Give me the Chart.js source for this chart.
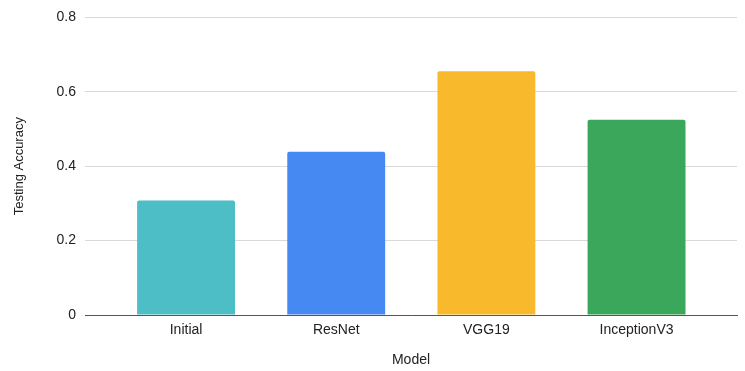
<!DOCTYPE html>
<html>
<head>
<meta charset="utf-8">
<script src="https://cdn.jsdelivr.net/npm/chart.js@4"></script>
<style>
html,body{margin:0;padding:0;background:#fff;}
#wrap{width:745px;height:371px;}
</style>
</head>
<body>
<div id="wrap"><canvas id="c" width="745" height="371"></canvas></div>
<script>
const categories = ["Initial", "ResNet", "VGG19", "InceptionV3"];
const accuracy = [0.308, 0.439, 0.655, 0.525];
const barColors = ["#4DBDC6", "#4689F2", "#F9B92D", "#3BA75A"];
const yTicks = [0, 0.2, 0.4, 0.6, 0.8];

const font = "'Liberation Sans', Arial, Helvetica, sans-serif";

new Chart(document.getElementById('c'), {
  type: 'bar',
  data: {
    datasets: [{
      data: categories.map((c, i) => ({x: i, y: accuracy[i]})),
      backgroundColor: barColors,
      borderWidth: 0,
      borderRadius: {topLeft: 2, topRight: 2},
      borderSkipped: 'bottom',
      categoryPercentage: 1,
      barPercentage: 0.652
    }]
  },
  options: {
    responsive: false,
    animation: false,
    devicePixelRatio: 1,
    layout: {padding: {left: 0, right: 8, top: 15, bottom: 0}},
    plugins: {legend: {display: false}, tooltip: {enabled: false}},
    scales: {
      x: {
        type: 'linear',
        offset: false,
        min: -0.673,
        max: 3.669,
        afterBuildTicks: s => { s.ticks = categories.map((c, i) => ({value: i})); },
        afterFit: s => { s.height = 56; },
        grid: {display: false, drawTicks: false, offset: false},
        border: {display: true, color: '#555555', width: 1},
        ticks: {
          callback: v => categories[v],
          color: '#222',
          font: {family: font, size: 14},
          padding: 7,
          maxRotation: 0,
          autoSkip: false
        },
        title: {
          display: true,
          text: 'Model',
          color: '#222',
          font: {family: font, size: 14},
          padding: {top: 0, bottom: 2}
        }
      },
      y: {
        min: 0,
        max: 0.8,
        afterBuildTicks: s => { s.ticks = yTicks.map(v => ({value: v})); },
        afterFit: s => { s.width = 85; },
        grid: {color: '#d9d9d9', drawTicks: false, lineWidth: 1},
        border: {display: false},
        ticks: {
          callback: v => String(v),
          color: '#222',
          font: {family: font, size: 14},
          padding: 9
        },
        title: {
          display: true,
          text: 'Testing Accuracy',
          color: '#222',
          font: {family: font, size: 13},
          padding: {top: 12, bottom: 0}
        }
      }
    }
  }
});
</script>
</body>
</html>
